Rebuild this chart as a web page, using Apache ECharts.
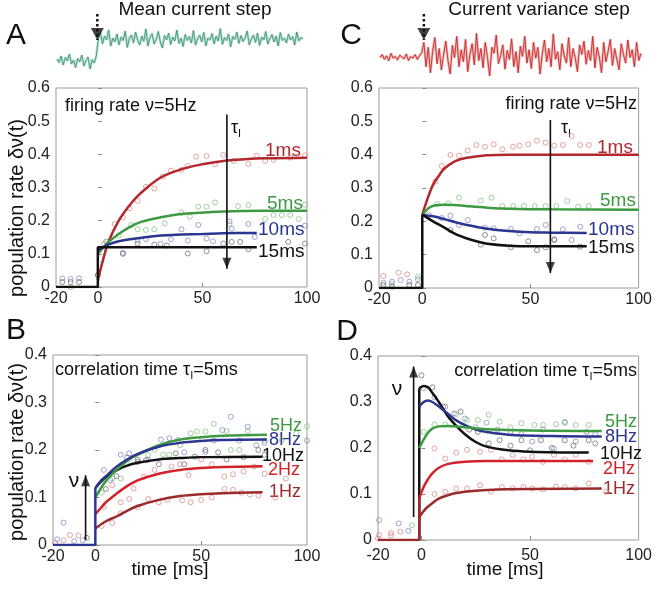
<!DOCTYPE html>
<html>
<head>
<meta charset="utf-8">
<script src="https://cdn.jsdelivr.net/npm/echarts@6/dist/echarts.min.js"></script>
<style>
html, body { margin: 0; padding: 0; background: #fff; }
#chart { width: 655px; height: 592px; }
</style>
</head>
<body>
<div id="chart"></div>
<script>
var FONT = '"Liberation Sans", Arial, Helvetica, sans-serif';
var RED = '#b3282d', RED2 = '#d2232a', DKRED = '#9b2a2c', GREEN = '#3c9a41', BLUE = '#2c3690', BLACK = '#111111';
var RED_DOT = '#d98080', GREEN_DOT = '#7cbf7c', BLUE_DOT = '#7a80c0', BLACK_DOT = '#666666';
var TRACE_GREEN = '#3f9c78', TRACE_RED = '#cc2b2b';

var timeTicks = [-20, 0, 50, 100];
var timeMarks = [0, 50];

// input current traces shown above A and C
var traceMean = [0.32,0.25,0.38,0.2,0.35,0.28,0.42,0.22,0.3,0.15,0.33,0.26,0.4,0.18,0.29,0.36,0.12,0.31,0.24,0.38,
  0.72,0.85,0.62,0.78,0.7,0.9,0.58,0.74,0.66,0.82,0.6,0.76,0.69,0.88,0.55,0.73,0.8,0.64,0.86,0.7,
  0.6,0.78,0.67,0.92,0.58,0.75,0.83,0.62,0.71,0.87,0.66,0.54,0.79,0.7,0.84,0.61,0.76,0.68,0.9,0.63,
  0.74,0.57,0.81,0.69,0.77,0.64,0.89,0.6,0.72,0.8,0.66,0.85,0.58,0.74,0.7,0.83,0.62,0.78,0.68,0.93,
  0.61,0.75,0.69,0.82,0.56,0.77,0.71,0.86,0.63,0.79,0.67,0.74,0.88,0.6,0.72,0.8,0.65,0.84,0.59,0.76,
  0.7,0.87,0.62,0.73,0.81,0.66,0.78,0.58,0.85,0.69,0.74,0.64,0.82,0.7,0.77,0.6,0.86,0.68,0.75,0.72];
var traceVar = [0.45,0.5,0.42,0.48,0.4,0.52,0.44,0.47,0.41,0.49,0.46,0.43,0.51,0.4,0.47,0.44,0.5,0.42,0.48,0.53,
  0.7,0.3,0.62,0.2,0.55,0.78,0.35,0.6,0.25,0.5,0.72,0.4,0.18,0.65,0.45,0.8,0.3,0.58,0.38,0.75,
  0.22,0.5,0.68,0.33,0.85,0.4,0.6,0.28,0.7,0.45,0.15,0.62,0.52,0.82,0.35,0.48,0.66,0.26,0.57,0.42,
  0.76,0.3,0.55,0.2,0.64,0.47,0.8,0.36,0.58,0.27,0.7,0.44,0.62,0.18,0.52,0.74,0.38,0.6,0.3,0.84,
  0.42,0.55,0.25,0.68,0.48,0.36,0.78,0.3,0.6,0.45,0.22,0.66,0.5,0.72,0.34,0.57,0.4,0.8,0.28,0.62,
  0.46,0.2,0.7,0.38,0.55,0.75,0.32,0.6,0.42,0.25,0.68,0.5,0.36,0.74,0.45,0.58,0.3,0.7,0.4,0.52];
var stepIndex = 19.5;

// A: mean current step, nu=5Hz, curves per tau_I
var aTau1 = [[0,0.02],[2,0.07],[5,0.135],[10,0.2],[15,0.245],[20,0.28],[30,0.33],[40,0.355],[50,0.37],[60,0.38],[70,0.385],[80,0.388],[100,0.39]];
var aTau5 = [[0,0.1],[5,0.135],[10,0.16],[15,0.18],[20,0.195],[30,0.21],[40,0.22],[60,0.228],[80,0.23],[100,0.23]];
var aTau10 = [[0,0.11],[5,0.128],[10,0.138],[20,0.148],[30,0.155],[40,0.158],[50,0.16],[60,0.162],[76,0.163]];
var aTau15 = [[-20,0],[0,0],[0,0.12],[76,0.12]];
var aDots1 = [[3,0.13],[8,0.19],[12,0.21],[15,0.237],[19,0.26],[23,0.302],[27,0.297],[31,0.333],[35,0.351],[40,0.353],[43,0.365],[47,0.393],[52,0.395],[56,0.37],[60,0.398],[65,0.38],[72,0.371],[76,0.396],[80,0.38],[84,0.383],[92,0.39],[99,0.397]];
var aDots5 = [[-13,0],[0,0.036],[10,0.155],[16,0.187],[19,0.174],[23,0.172],[27,0.174],[32,0.192],[40,0.224],[44,0.212],[48,0.242],[52,0.242],[56,0.255],[63,0.19],[67,0.244],[72,0.247],[80,0.205],[84,0.217],[88,0.217],[92,0.217],[96,0.205],[99,0.248]];
var aDots10 = [[-17,0.026],[-13,0.024],[-9,0.026],[4,0.137],[12,0.103],[19,0.14],[23,0.144],[30,0.13],[35,0.144],[40,0.174],[43,0.14],[48,0.187],[52,0.146],[55,0.138],[63,0.198],[64,0.176],[72,0.19],[75,0.151],[99,0.185]];
var aDots15 = [[-17,0.015],[-13,0.015],[-9,0.015],[0,0.036],[12,0.1],[19,0.131],[27,0.128],[33,0.125],[43,0.101],[52,0.108],[60,0.131],[64,0.136],[68,0.136],[72,0.114],[91,0.136],[99,0.131]];

// C: variance step, nu=5Hz
var cStep = [[-20,0],[0,0],[0,0.22]];
var cTau1 = [[0,0.22],[2,0.26],[5,0.31],[8,0.34],[10,0.357],[15,0.38],[20,0.39],[30,0.398],[40,0.4],[60,0.4],[100,0.4]];
var cTau5 = [[0,0.22],[3,0.24],[6,0.248],[10,0.25],[15,0.249],[20,0.246],[30,0.241],[40,0.238],[60,0.236],[100,0.235]];
var cTau10 = [[0,0.22],[5,0.215],[10,0.207],[15,0.198],[20,0.19],[30,0.178],[40,0.171],[50,0.167],[60,0.166],[76,0.165]];
var cTau15 = [[0,0.22],[5,0.2],[10,0.182],[15,0.163],[20,0.15],[25,0.14],[30,0.133],[40,0.127],[50,0.125],[76,0.125]];
var cDots1 = [[-18,0.036],[-11,0.046],[-7,0.041],[6,0.319],[9,0.366],[13,0.399],[17,0.397],[21,0.412],[25,0.429],[29,0.424],[33,0.431],[37,0.416],[42,0.424],[45,0.427],[49,0.431],[53,0.442],[57,0.436],[61,0.427],[65,0.429],[69,0.456],[73,0.429],[77,0.429]];
var cDots5 = [[-14,0.012],[-2,0.034],[7,0.252],[12,0.254],[17,0.271],[27,0.262],[32,0.271],[37,0.246],[42,0.246],[47,0.246],[52,0.246],[57,0.246],[62,0.246],[67,0.261],[72,0.244],[77,0.246]];
var cDots10 = [[-18,0.016],[-14,0.019],[-10,0.024],[-6,0.019],[-2,0.026],[3,0.219],[9,0.21],[13,0.217],[17,0.189],[21,0.204],[29,0.181],[33,0.179],[41,0.177],[45,0.164],[53,0.177],[57,0.189],[61,0.146],[65,0.176],[69,0.144],[73,0.184]];
var cDots15 = [[-18,0.009],[-14,0.004],[-6,0.009],[-2,0.009],[13,0.174],[27,0.13],[29,0.159],[33,0.149],[41,0.122],[49,0.14],[53,0.114],[57,0.122],[61,0.144],[73,0.124]];

// B: mean step, tau_I=5ms, curves per rate
var bStep = [[-20,0],[0,0],[0,0.12]];
var bHz5 = [[0,0.1],[5,0.135],[10,0.158],[15,0.177],[20,0.19],[30,0.21],[40,0.222],[50,0.227],[60,0.23],[81,0.232]];
var bHz8 = [[0,0.12],[3,0.137],[5,0.145],[10,0.165],[15,0.18],[20,0.192],[30,0.207],[40,0.215],[50,0.219],[60,0.221],[81,0.222]];
var bHz10 = [[0,0.12],[3,0.135],[5,0.143],[10,0.157],[15,0.167],[20,0.173],[30,0.18],[40,0.183],[50,0.185],[79,0.186]];
var bHz2 = [[0,0.065],[3,0.08],[5,0.09],[10,0.108],[15,0.124],[20,0.136],[30,0.15],[40,0.158],[50,0.162],[60,0.164],[79,0.166]];
var bHz1 = [[0,0.035],[5,0.05],[10,0.06],[15,0.072],[20,0.082],[30,0.095],[40,0.103],[50,0.107],[60,0.109],[79,0.111]];
var bDots5 = [[3,0.11],[8,0.14],[12,0.14],[15,0.17],[20,0.175],[25,0.19],[28,0.2],[32,0.19],[35,0.19],[40,0.21],[45,0.235],[48,0.239],[52,0.239],[56,0.255],[62,0.24],[64,0.2],[68,0.2],[72,0.24],[80,0.22],[88,0.22],[95,0.235],[100,0.25]];
var bDots8 = [[-18,0.012],[-15,0.047],[-10,0.008],[-6,0.01],[4,0.158],[7,0.137],[12,0.19],[16,0.193],[20,0.175],[25,0.179],[31,0.222],[35,0.225],[39,0.221],[42,0.195],[52,0.196],[56,0.22],[60,0.242],[64,0.27],[68,0.22],[72,0.249],[76,0.21],[80,0.215],[100,0.22]];
var bDots10 = [[-4,0.015],[5,0.118],[10,0.145],[15,0.184],[20,0.18],[24,0.179],[30,0.17],[38,0.193],[42,0.17],[47,0.186],[52,0.2],[58,0.195],[62,0.18],[70,0.185],[77,0.2],[80,0.19]];
var bDots2 = [[-15,0.01],[-8,0.02],[4,0.08],[8,0.126],[12,0.09],[18,0.119],[23,0.144],[28,0.158],[36,0.165],[40,0.17],[44,0.147],[50,0.18],[55,0.17],[61,0.144],[65,0.149],[70,0.155],[75,0.165],[80,0.15],[90,0.14]];
var bDots1 = [[-19,0.005],[-12,0.021],[3,0.04],[8,0.046],[12,0.067],[16,0.097],[20,0.08],[25,0.097],[30,0.09],[34,0.095],[41,0.094],[45,0.09],[50,0.095],[55,0.1],[61,0.118],[65,0.116],[69,0.11],[73,0.106],[77,0.104],[85,0.1]];

// D: variance step, tau_I=5ms
var dRise = [[-1,0],[-1,0.33]];
var dStep = [[-20,0],[-1,0],[-1,0.09]];
var dHz10 = [[-1,0.33],[1,0.335],[3,0.332],[5,0.32],[8,0.3],[12,0.27],[16,0.248],[20,0.23],[25,0.213],[30,0.203],[40,0.195],[50,0.192],[77,0.19]];
var dHz8 = [[-1,0.29],[1,0.3],[3,0.303],[5,0.3],[8,0.29],[12,0.275],[16,0.26],[20,0.25],[25,0.24],[30,0.235],[40,0.229],[60,0.226],[83,0.225]];
var dHz5 = [[-1,0.2],[1,0.218],[3,0.233],[5,0.242],[8,0.247],[12,0.248],[20,0.245],[30,0.241],[50,0.238],[83,0.237]];
var dHz2 = [[-1,0.09],[1,0.115],[3,0.132],[5,0.145],[8,0.157],[12,0.165],[20,0.17],[30,0.172],[79,0.172]];
var dHz1 = [[-1,0.05],[2,0.068],[5,0.08],[8,0.09],[12,0.097],[16,0.102],[25,0.107],[35,0.11],[83,0.112]];
var dDots10 = [[0,0.358],[5,0.332],[10,0.29],[18,0.279],[22,0.24],[26,0.235],[31,0.21],[36,0.217],[41,0.205],[46,0.217],[50,0.195],[55,0.217],[60,0.2],[66,0.217],[70,0.205],[77,0.217],[80,0.21]];
var dDots8 = [[-19.5,0.043],[-10.5,0.036],[-6,0.02],[1,0.33],[6,0.31],[11,0.29],[15,0.275],[20,0.264],[25,0.245],[30,0.255],[35,0.24],[41,0.235],[46,0.23],[51,0.214],[56,0.24],[61,0.199],[66,0.255],[71,0.214],[76,0.235],[80,0.23]];
var dDots5 = [[-4.4,0.032],[1,0.235],[6,0.251],[11,0.251],[16,0.274],[21,0.261],[26,0.261],[31,0.272],[36,0.257],[41,0.245],[46,0.254],[52,0.25],[56,0.25],[62,0.252],[66,0.257],[71,0.25],[77,0.25]];
var dDots2 = [[-19.5,0.011],[-14,0.015],[-9.7,0.018],[6,0.199],[11,0.177],[16,0.19],[21,0.196],[27,0.192],[32,0.196],[37,0.175],[42,0.185],[47,0.175],[51,0.181],[56,0.17],[61,0.185],[66,0.175],[71,0.185],[77,0.17]];
var dDots1 = [[-20,0.003],[-14,0.01],[6,0.1],[11,0.105],[16,0.112],[21,0.112],[27,0.119],[32,0.105],[37,0.115],[42,0.112],[47,0.115],[51,0.112],[56,0.11],[62,0.116],[66,0.115],[71,0.112],[77,0.123],[85,0.105]];

function curve(data, color, gi, smooth) {
    return {
        type: 'line', xAxisIndex: gi, yAxisIndex: gi, data: data,
        showSymbol: false, smooth: smooth ? 0.35 : false, silent: true, z: 3,
        lineStyle: { color: color, width: 2.5 }, itemStyle: { color: color }
    };
}

function dots(data, color, gi) {
    return {
        type: 'scatter', xAxisIndex: gi, yAxisIndex: gi, data: data,
        symbol: 'circle', symbolSize: 5, silent: true, z: 2,
        itemStyle: { color: 'transparent', borderColor: color, borderWidth: 0.9 }
    };
}

// vertical arrow: a shaft from `from` to `to` plus a triangle head whose tip sits on `to`
function arrow(gi, x, from, to, opts) {
    opts = opts || {};
    var w = opts.headW || 9, h = opts.headH || 11;
    var down = to < from;
    return [{
        type: 'line', xAxisIndex: gi, yAxisIndex: gi, data: [[x, from], [x, to]],
        showSymbol: false, silent: true, z: 5,
        lineStyle: { color: BLACK, width: opts.width || 1.6, type: opts.type || 'solid' }
    }, {
        type: 'scatter', xAxisIndex: gi, yAxisIndex: gi, data: [[x, to]],
        symbol: 'triangle', symbolSize: [w, h], symbolRotate: down ? 180 : 0,
        symbolOffset: [0, down ? -h / 2 : h / 2], silent: true, z: 6,
        itemStyle: { color: BLACK }
    }];
}

function indexed(arr) {
    return arr.map(function (v, i) { return [i, v]; });
}

function timeAxis(gi, margin) {
    return {
        gridIndex: gi, type: 'value', min: -20, max: 100,
        axisLine: { show: false }, splitLine: { show: false },
        axisTick: { inside: true, length: 4, customValues: timeMarks, lineStyle: { color: '#888' } },
        axisLabel: { customValues: timeTicks, fontSize: 16, color: '#222', fontFamily: FONT, margin: margin }
    };
}

function rateAxis(gi, max) {
    return {
        gridIndex: gi, type: 'value', min: 0, max: max, interval: 0.1,
        axisLine: { show: false }, splitLine: { show: false },
        axisTick: { inside: true, length: 4, lineStyle: { color: '#888' } },
        axisLabel: { fontSize: 16, color: '#222', fontFamily: FONT, margin: 6 }
    };
}

function txt(x, y, s, color, size, align, extra) {
    var el = {
        type: 'text', x: x, y: y, silent: true,
        style: { text: s, fill: color || BLACK, fontSize: size || 18, fontFamily: FONT,
                 align: align || 'left', verticalAlign: 'middle' }
    };
    if (extra) { for (var k in extra) { el[k] = extra[k]; } }
    return el;
}

function tauText(x, y, pre, post, align) {
    return {
        type: 'text', x: x, y: y, silent: true,
        style: {
            text: '{m|' + pre + 'τ}{s|I}' + (post ? '{m|' + post + '}' : ''),
            fill: BLACK, align: align || 'left', verticalAlign: 'middle',
            rich: {
                m: { fontSize: 18, fontFamily: FONT, lineHeight: 22 },
                s: { fontSize: 11, fontFamily: FONT, lineHeight: 11, verticalAlign: 'bottom' }
            }
        }
    };
}

var panelGrid = { show: true, borderColor: '#9a9a9a', borderWidth: 1, backgroundColor: 'transparent' };
function grid(l, t, w, h, show) {
    var g = { left: l, top: t, width: w, height: h, show: false };
    if (show) { for (var k in panelGrid) { g[k] = panelGrid[k]; } }
    return g;
}

var series = [];
// traces
series.push({ type: 'line', xAxisIndex: 0, yAxisIndex: 0, data: indexed(traceMean), showSymbol: false, silent: true,
    lineStyle: { color: TRACE_GREEN, width: 2.6, opacity: 0.35 } });
series.push({ type: 'line', xAxisIndex: 0, yAxisIndex: 0, data: indexed(traceMean), showSymbol: false, silent: true,
    lineStyle: { color: TRACE_GREEN, width: 1, opacity: 0.9 } });
series.push({ type: 'line', xAxisIndex: 1, yAxisIndex: 1, data: indexed(traceVar), showSymbol: false, silent: true,
    lineStyle: { color: TRACE_RED, width: 2.6, opacity: 0.35 } });
series.push({ type: 'line', xAxisIndex: 1, yAxisIndex: 1, data: indexed(traceVar), showSymbol: false, silent: true,
    lineStyle: { color: TRACE_RED, width: 1, opacity: 0.9 } });
series.push.apply(series, arrow(0, stepIndex, 1.22, 0.7, { type: 'dotted', width: 2.5, headW: 13, headH: 12 }));
series.push.apply(series, arrow(1, 20, 1.167, 0.74, { type: 'dotted', width: 2.5, headW: 13, headH: 12 }));

// A
series.push(dots(aDots1, RED_DOT, 2), dots(aDots5, GREEN_DOT, 2), dots(aDots10, BLUE_DOT, 2), dots(aDots15, BLACK_DOT, 2));
series.push(curve(aTau1, RED, 2, true), curve(aTau5, GREEN, 2, true), curve(aTau10, BLUE, 2, true), curve(aTau15, BLACK, 2, false));
series.push.apply(series, arrow(2, 61.7, 0.52, 0.055));

// C
series.push(dots(cDots1, RED_DOT, 3), dots(cDots5, GREEN_DOT, 3), dots(cDots10, BLUE_DOT, 3), dots(cDots15, BLACK_DOT, 3));
series.push(curve(cTau1, RED, 3, true), curve(cTau5, GREEN, 3, true), curve(cTau10, BLUE, 3, true), curve(cTau15, BLACK, 3, true), curve(cStep, BLACK, 3, false));
series.push.apply(series, arrow(3, 59.2, 0.504, 0.045));

// B
series.push(dots(bDots5, GREEN_DOT, 4), dots(bDots8, BLUE_DOT, 4), dots(bDots10, BLACK_DOT, 4), dots(bDots2, RED_DOT, 4), dots(bDots1, RED_DOT, 4));
series.push(curve(bHz1, DKRED, 4, true), curve(bHz2, RED2, 4, true), curve(bHz10, BLACK, 4, true), curve(bHz5, GREEN, 4, true), curve(bHz8, BLUE, 4, true), curve(bStep, BLUE, 4, false));
series.push.apply(series, arrow(4, -4.6, 0.0105, 0.147));

// D
series.push(dots(dDots10, BLACK_DOT, 5), dots(dDots8, BLUE_DOT, 5), dots(dDots5, GREEN_DOT, 5), dots(dDots2, RED_DOT, 5), dots(dDots1, RED_DOT, 5));
series.push(curve(dRise, BLACK, 5, false), curve(dHz10, BLACK, 5, true), curve(dHz8, BLUE, 5, true), curve(dHz5, GREEN, 5, true),
    curve(dHz2, RED2, 5, true), curve(dHz1, DKRED, 5, true), curve(dStep, DKRED, 5, false));
series.push.apply(series, arrow(5, -3.6, 0.05, 0.377));

var graphics = [
    txt(195, 10, 'Mean current step', '#111', 19, 'center'),
    txt(539, 10, 'Current variance step', '#111', 19, 'center'),
    txt(16, 36, 'A', '#111', 30, 'center'),
    txt(351, 36, 'C', '#111', 30, 'center'),
    txt(16, 331, 'B', '#111', 30, 'center'),
    txt(347, 332, 'D', '#111', 30, 'center'),
    txt(17, 208, 'population rate δν(t)', '#111', 20, 'center', { rotation: Math.PI / 2 }),
    txt(17, 452, 'population rate δν(t)', '#111', 20, 'center', { rotation: Math.PI / 2 }),
    txt(170, 570, 'time [ms]', '#111', 19, 'center'),
    txt(505, 570, 'time [ms]', '#111', 19, 'center'),
    txt(65, 106, 'firing rate ν=5Hz', '#111', 18, 'left'),
    txt(637, 104, 'firing rate ν=5Hz', '#111', 18, 'right'),
    tauText(231, 128, '', '', 'left'),
    tauText(561, 128, '', '', 'left'),
    tauText(55, 370, 'correlation time ', '=5ms', 'left'),
    tauText(637, 371, 'correlation time ', '=5ms', 'right'),
    txt(74, 481, 'ν', '#111', 21, 'center'),
    txt(397, 389, 'ν', '#111', 21, 'center'),
    // curve labels
    txt(265, 151, '1ms', RED, 19), txt(267, 204, '5ms', GREEN, 19), txt(258, 230, '10ms', BLUE, 19), txt(258, 252, '15ms', BLACK, 19),
    txt(597, 148, '1ms', RED, 19), txt(600, 201, '5ms', GREEN, 19), txt(588, 230, '10ms', BLUE, 19), txt(588, 248, '15ms', BLACK, 19),
    txt(270, 426, '5Hz', GREEN, 18), txt(269, 440, '8Hz', BLUE, 18), txt(262, 456, '10Hz', BLACK, 18), txt(268, 470, '2Hz', RED2, 18), txt(269, 492, '1Hz', DKRED, 18),
    txt(605, 422, '5Hz', GREEN, 18), txt(605, 437, '8Hz', BLUE, 18), txt(600, 454, '10Hz', BLACK, 18), txt(603, 469, '2Hz', RED2, 18), txt(603, 489, '1Hz', DKRED, 18)
];

var option = {
    animation: false,
    backgroundColor: '#ffffff',
    grid: [
        grid(57, 12, 246, 63, false),
        grid(380, 12, 261, 73, false),
        grid(56, 88, 251, 199, true),
        grid(379, 88, 261, 200, true),
        grid(53, 355, 254, 190, true),
        grid(378, 356, 264, 184, true)
    ],
    xAxis: [
        { gridIndex: 0, type: 'value', min: 0, max: traceMean.length - 1, show: false },
        { gridIndex: 1, type: 'value', min: 0, max: traceVar.length - 1, show: false },
        timeAxis(2, 4), timeAxis(3, 4), timeAxis(4, 4), timeAxis(5, 8)
    ],
    yAxis: [
        { gridIndex: 0, type: 'value', min: 0, max: 1.26, show: false },
        { gridIndex: 1, type: 'value', min: 0, max: 1.2, show: false },
        rateAxis(2, 0.6), rateAxis(3, 0.6), rateAxis(4, 0.4), rateAxis(5, 0.4)
    ],
    series: series,
    graphic: { elements: graphics }
};

var chart = echarts.init(document.getElementById('chart'));
chart.setOption(option);
</script>
</body>
</html>
